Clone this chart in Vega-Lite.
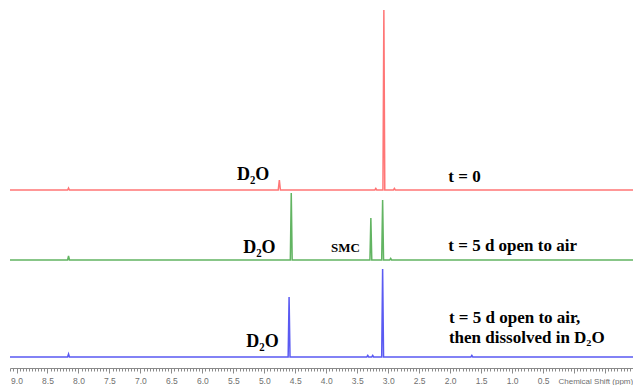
{
  "$schema": "https://vega.github.io/schema/vega-lite/v6.json",
  "padding": {"left": 7, "top": 0, "right": 0, "bottom": 0},
  "autosize": {"type": "pad"},
  "spacing": 0,
  "bounds": "flush",
  "config": {"view": {"stroke": null}},
  "datasets": {
    "spec": [
      {"spectrum": "t0", "ppm": 9.105, "intensity": 0},
      {"spectrum": "t0", "ppm": 8.175, "intensity": 0},
      {"spectrum": "t0", "ppm": 8.16, "intensity": 2},
      {"spectrum": "t0", "ppm": 8.145, "intensity": 0},
      {"spectrum": "t0", "ppm": 4.775, "intensity": 0},
      {"spectrum": "t0", "ppm": 4.757, "intensity": 10},
      {"spectrum": "t0", "ppm": 4.74, "intensity": 0},
      {"spectrum": "t0", "ppm": 3.215, "intensity": 0},
      {"spectrum": "t0", "ppm": 3.2, "intensity": 1.5},
      {"spectrum": "t0", "ppm": 3.185, "intensity": 0},
      {"spectrum": "t0", "ppm": 3.085, "intensity": 0},
      {"spectrum": "t0", "ppm": 3.07, "intensity": 180},
      {"spectrum": "t0", "ppm": 3.055, "intensity": 0},
      {"spectrum": "t0", "ppm": 2.915, "intensity": 0},
      {"spectrum": "t0", "ppm": 2.9, "intensity": 1.5},
      {"spectrum": "t0", "ppm": 2.885, "intensity": 0},
      {"spectrum": "t0", "ppm": -1.0, "intensity": 0},
      {"spectrum": "t5", "ppm": 9.105, "intensity": 0},
      {"spectrum": "t5", "ppm": 8.175, "intensity": 0},
      {"spectrum": "t5", "ppm": 8.16, "intensity": 4},
      {"spectrum": "t5", "ppm": 8.145, "intensity": 0},
      {"spectrum": "t5", "ppm": 4.58, "intensity": 0},
      {"spectrum": "t5", "ppm": 4.565, "intensity": 67},
      {"spectrum": "t5", "ppm": 4.55, "intensity": 0},
      {"spectrum": "t5", "ppm": 3.295, "intensity": 0},
      {"spectrum": "t5", "ppm": 3.28, "intensity": 42},
      {"spectrum": "t5", "ppm": 3.265, "intensity": 0},
      {"spectrum": "t5", "ppm": 3.105, "intensity": 0},
      {"spectrum": "t5", "ppm": 3.09, "intensity": 60},
      {"spectrum": "t5", "ppm": 3.075, "intensity": 0},
      {"spectrum": "t5", "ppm": 2.975, "intensity": 0},
      {"spectrum": "t5", "ppm": 2.96, "intensity": 1.5},
      {"spectrum": "t5", "ppm": 2.945, "intensity": 0},
      {"spectrum": "t5", "ppm": -1.0, "intensity": 0},
      {"spectrum": "t5d", "ppm": 9.105, "intensity": 0},
      {"spectrum": "t5d", "ppm": 8.175, "intensity": 0},
      {"spectrum": "t5d", "ppm": 8.16, "intensity": 3},
      {"spectrum": "t5d", "ppm": 8.145, "intensity": 0},
      {"spectrum": "t5d", "ppm": 4.615, "intensity": 0},
      {"spectrum": "t5d", "ppm": 4.6, "intensity": 60},
      {"spectrum": "t5d", "ppm": 4.585, "intensity": 0},
      {"spectrum": "t5d", "ppm": 3.345, "intensity": 0},
      {"spectrum": "t5d", "ppm": 3.33, "intensity": 1.5},
      {"spectrum": "t5d", "ppm": 3.315, "intensity": 0},
      {"spectrum": "t5d", "ppm": 3.265, "intensity": 0},
      {"spectrum": "t5d", "ppm": 3.25, "intensity": 1.5},
      {"spectrum": "t5d", "ppm": 3.235, "intensity": 0},
      {"spectrum": "t5d", "ppm": 3.105, "intensity": 0},
      {"spectrum": "t5d", "ppm": 3.09, "intensity": 88},
      {"spectrum": "t5d", "ppm": 3.075, "intensity": 0},
      {"spectrum": "t5d", "ppm": 1.665, "intensity": 0},
      {"spectrum": "t5d", "ppm": 1.65, "intensity": 1.5},
      {"spectrum": "t5d", "ppm": 1.635, "intensity": 0},
      {"spectrum": "t5d", "ppm": -1.0, "intensity": 0}
    ],
    "notes": [
      {"spectrum": "t0", "kind": "d2o", "text": "D₂O", "ppm": 5.18, "level": 10},
      {"spectrum": "t0", "kind": "label", "text": "t = 0", "ppm": 2.03, "level": 8},
      {"spectrum": "t5", "kind": "d2o", "text": "D₂O", "ppm": 5.08, "level": 7},
      {"spectrum": "t5", "kind": "smc", "text": "SMC", "ppm": 3.69, "level": 8},
      {"spectrum": "t5", "kind": "label", "text": "t = 5 d open to air", "ppm": 2.03, "level": 9},
      {"spectrum": "t5d", "kind": "d2o", "text": "D₂O", "ppm": 5.03, "level": 10},
      {"spectrum": "t5d", "kind": "label", "text": "t = 5 d open to air,", "ppm": 2.02, "level": 34},
      {"spectrum": "t5d", "kind": "label", "text": "then dissolved in D₂O", "ppm": 2.02, "level": 14}
    ]
  },
  "vconcat": [
    {
      "width": 626,
      "height": 190,
      "encoding": {
        "x": {"field": "ppm", "type": "quantitative", "scale": {"domain": [-1.0, 9.105], "reverse": true, "nice": false, "zero": false}, "axis": null}
      },
      "layer": [
        {
          "data": {"name": "spec"},
          "transform": [{"filter": "datum.spectrum === 't0'"}],
          "mark": {"type": "line", "color": "#ff7676", "strokeWidth": 1.5},
          "encoding": {"y": {"field": "intensity", "type": "quantitative", "scale": {"domain": [0, 190], "nice": false, "zero": false}, "axis": null}}
        },
        {
          "data": {"name": "notes"},
          "transform": [{"filter": "datum.spectrum === 't0' && datum.kind === 'd2o'"}],
          "mark": {"type": "text", "align": "center", "baseline": "alphabetic", "font": "Liberation Serif", "fontWeight": "bold", "fontSize": 18, "color": "black"},
          "encoding": {"y": {"field": "level", "type": "quantitative"}, "text": {"field": "text"}}
        },
        {
          "data": {"name": "notes"},
          "transform": [{"filter": "datum.spectrum === 't0' && datum.kind === 'label'"}],
          "mark": {"type": "text", "align": "left", "baseline": "alphabetic", "font": "Liberation Serif", "fontWeight": "bold", "fontSize": 17, "color": "black"},
          "encoding": {"y": {"field": "level", "type": "quantitative"}, "text": {"field": "text"}}
        }
      ]
    },
    {
      "width": 626,
      "height": 70,
      "encoding": {
        "x": {"field": "ppm", "type": "quantitative", "scale": {"domain": [-1.0, 9.105], "reverse": true, "nice": false, "zero": false}, "axis": null}
      },
      "layer": [
        {
          "data": {"name": "spec"},
          "transform": [{"filter": "datum.spectrum === 't5'"}],
          "mark": {"type": "line", "color": "#62b462", "strokeWidth": 1.5},
          "encoding": {"y": {"field": "intensity", "type": "quantitative", "scale": {"domain": [0, 70], "nice": false, "zero": false}, "axis": null}}
        },
        {
          "data": {"name": "notes"},
          "transform": [{"filter": "datum.spectrum === 't5' && datum.kind === 'd2o'"}],
          "mark": {"type": "text", "align": "center", "baseline": "alphabetic", "font": "Liberation Serif", "fontWeight": "bold", "fontSize": 18, "color": "black"},
          "encoding": {"y": {"field": "level", "type": "quantitative"}, "text": {"field": "text"}}
        },
        {
          "data": {"name": "notes"},
          "transform": [{"filter": "datum.spectrum === 't5' && datum.kind === 'smc'"}],
          "mark": {"type": "text", "align": "center", "baseline": "alphabetic", "font": "Liberation Serif", "fontWeight": "bold", "fontSize": 13, "color": "black"},
          "encoding": {"y": {"field": "level", "type": "quantitative"}, "text": {"field": "text"}}
        },
        {
          "data": {"name": "notes"},
          "transform": [{"filter": "datum.spectrum === 't5' && datum.kind === 'label'"}],
          "mark": {"type": "text", "align": "left", "baseline": "alphabetic", "font": "Liberation Serif", "fontWeight": "bold", "fontSize": 17, "color": "black"},
          "encoding": {"y": {"field": "level", "type": "quantitative"}, "text": {"field": "text"}}
        }
      ]
    },
    {
      "width": 626,
      "height": 97,
      "encoding": {
        "x": {
          "field": "ppm", "type": "quantitative",
          "scale": {"domain": [-1.0, 9.105], "reverse": true, "nice": false, "zero": false},
          "axis": {
            "tickCount": 202,
            "offset": 11,
            "grid": false,
            "domain": true,
            "domainColor": "#8a8a8a",
            "domainWidth": 1,
            "tickColor": "#8a8a8a",
            "tickWidth": 1,
            "tickSize": {"condition": {"test": "abs(datum.value * 2 - round(datum.value * 2)) < 0.001", "value": 5}, "value": 3},
            "labelExpr": "(abs(datum.value * 2 - round(datum.value * 2)) < 0.001 && datum.value > 0.4) ? format(datum.value, '.1f') : ''",
            "labelOverlap": false,
            "labelFlush": false,
            "labelPadding": 3,
            "labelFont": "Liberation Sans",
            "labelFontSize": 8.5,
            "labelColor": "#707070",
            "title": "Chemical Shift (ppm)",
            "titleX": 548,
            "titleY": 15,
            "titleAlign": "left",
            "titleAnchor": null,
            "titleBaseline": "alphabetic",
            "titleFont": "Liberation Sans",
            "titleFontSize": 8,
            "titleFontWeight": "normal",
            "titleColor": "#707070"
          }
        }
      },
      "layer": [
        {
          "data": {"name": "spec"},
          "transform": [{"filter": "datum.spectrum === 't5d'"}],
          "mark": {"type": "line", "color": "#5a5af2", "strokeWidth": 1.5},
          "encoding": {"y": {"field": "intensity", "type": "quantitative", "scale": {"domain": [0, 97], "nice": false, "zero": false}, "axis": null}}
        },
        {
          "data": {"name": "notes"},
          "transform": [{"filter": "datum.spectrum === 't5d' && datum.kind === 'd2o'"}],
          "mark": {"type": "text", "align": "center", "baseline": "alphabetic", "font": "Liberation Serif", "fontWeight": "bold", "fontSize": 18, "color": "black"},
          "encoding": {"y": {"field": "level", "type": "quantitative"}, "text": {"field": "text"}}
        },
        {
          "data": {"name": "notes"},
          "transform": [{"filter": "datum.spectrum === 't5d' && datum.kind === 'label'"}],
          "mark": {"type": "text", "align": "left", "baseline": "alphabetic", "font": "Liberation Serif", "fontWeight": "bold", "fontSize": 17, "color": "black"},
          "encoding": {"y": {"field": "level", "type": "quantitative"}, "text": {"field": "text"}}
        }
      ]
    }
  ]
}
